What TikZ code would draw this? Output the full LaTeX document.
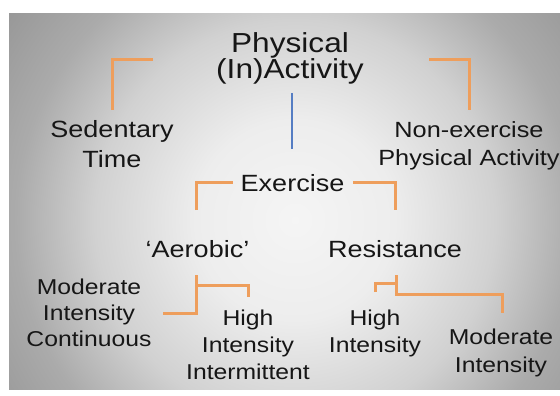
\documentclass[tikz,border=0pt]{standalone}
\usepackage{fontspec}
\setmainfont{Liberation Sans}[FakeStretch=1.15]
\definecolor{bro}{RGB}{238,158,92}
\definecolor{bblue}{RGB}{85,125,195}
\definecolor{txt}{RGB}{22,22,22}
\pgfdeclareradialshading{bgshade}{\pgfpoint{0bp}{0bp}}{%
  rgb(0bp)=(.96,.96,.96);
  rgb(6.9bp)=(.93,.93,.93);
  rgb(13.9bp)=(.82,.82,.82);
  rgb(19.4bp)=(.67,.67,.67);
  rgb(24.3bp)=(.60,.60,.60);
  rgb(25bp)=(.59,.59,.59);
  rgb(50bp)=(.59,.59,.59)}
\tikzset{
  br/.style={draw=bro, line width=3pt, line join=miter},
  bl/.style={draw=bblue, line width=2pt},
  lbl/.style={text=txt, align=center, anchor=base, inner sep=0pt},
  big/.style={lbl, font=\fontsize{27.5}{26.7}\selectfont},
  mid/.style={lbl, font=\fontsize{23.5}{30}\selectfont},
  sml/.style={lbl, font=\fontsize{21.5}{27}\selectfont}
}
\begin{document}
\begin{tikzpicture}[x=1pt, y=-1pt]
\useasboundingbox (0,0) rectangle (560,396);
\fill[white] (0,0) rectangle (560,396);
\begin{scope}
  \clip (9,14) rectangle (560,389);
  \shade[shading=bgshade] (295,220) circle (360pt);
\end{scope}
% labels (positions give the baseline of the last line)
\node[big] (phys) at (290,79) {Physical\\(In)Activity};
\node[mid] (sed) at (112,167) {Sedentary\\Time};
\node[lbl, font=\fontsize{22}{28}\selectfont] (nonex) at (469,165) {Non-exercise\\Physical Activity};
\node[mid] (exer) at (292.5,191) {Exercise};
\node[mid] (aer) at (197.5,257) {‘Aerobic’};
\node[mid] (res) at (395,257) {Resistance};
\node[sml, font=\fontsize{21.5}{26}\selectfont] (mic) at (89,346) {Moderate\\Intensity\\Continuous};
\node[sml] (hii) at (248,379) {High\\Intensity\\Intermittent};
\node[sml] (hi) at (375,352) {High\\Intensity};
\node[sml, font=\fontsize{21.5}{28}\selectfont] (mi) at (501,372) {Moderate\\Intensity};
% brackets
\draw[br] (112,110) -- (112,60) -- (153,60);
\draw[br] (429,60) -- (469,60) -- (469,110);
\draw[bl] (291.5,93) -- (291.5,149);
\draw[br] (196,210) -- (196,182) -- (233,182);
\draw[br] (353,182) -- (395,182) -- (395,210);
\draw[br] (163,313) -- (196,313) -- (196,275);
\draw[br] (196,285) -- (248,285) -- (248,297);
\draw[br] (375,292) -- (375,283) -- (396,283);
\draw[br] (396,275) -- (396,294) -- (502,294) -- (502,313);
\end{tikzpicture}
\end{document}
